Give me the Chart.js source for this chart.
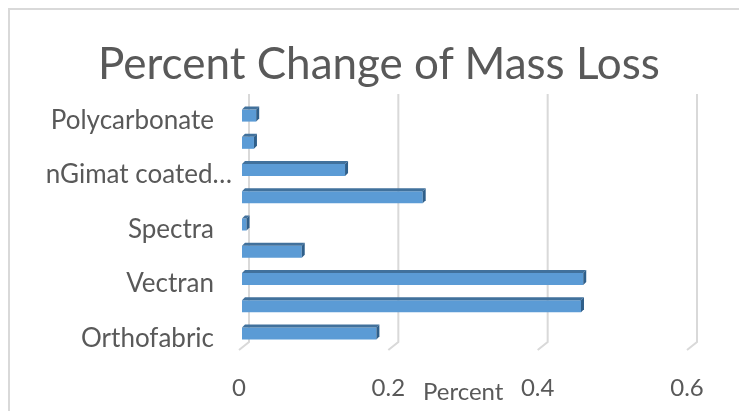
<!DOCTYPE html>
<html>
<head>
<meta charset="utf-8">
<style>
  html, body { margin: 0; padding: 0; background: #fff; overflow: hidden; }
  #wrap { width: 739px; height: 411px; position: relative; }
  #chart { display: block; }
  #xname { position: absolute; left: 423px; top: 376px; font: 24px Lato; color: #595959; }
  #title { position: absolute; left: 98px; top: 36px; font: 44px/53px Lato; color: #595959; white-space: nowrap; }
</style>
<script src="https://cdn.jsdelivr.net/npm/chart.js@4"></script>
</head>
<body>
<div id="wrap">
  <canvas id="chart" width="739" height="411"></canvas>
  <div id="title">Percent Change of Mass Loss</div>
  <div id="xname">Percent</div>
</div>
<script>
const categories = ['Orthofabric', '', 'Vectran', '', 'Spectra', '', 'nGimat coated…', '', 'Polycarbonate'];
const percentChange = [0.18, 0.454, 0.457, 0.08, 0.006, 0.242, 0.138, 0.016, 0.019];
const xTicks = [0, 0.2, 0.4, 0.6];
const longLabel = 6; // this one sits further right than the others in the original

// fake 3D look: back wall gridlines and floor, then depth faces on the bars
const depthBars = {
  id: 'depthBars',
  beforeDatasetsDraw(chart) {
    const { ctx, scales: { x }, chartArea } = chart;
    ctx.save();
    ctx.strokeStyle = '#d9d9d9';
    ctx.lineWidth = 2;
    xTicks.forEach(v => {
      const px = x.getPixelForValue(v) + 7;
      ctx.beginPath();
      ctx.moveTo(px, 94);
      ctx.lineTo(px, chartArea.bottom - 5);
      ctx.lineTo(px - 10, chartArea.bottom + 3);
      ctx.stroke();
    });
    ctx.restore();
  },
  afterDatasetsDraw(chart) {
    const { ctx, scales: { y } } = chart;
    ctx.save();
    chart.getDatasetMeta(0).data.forEach(bar => {
      const h = bar.height;
      const top = bar.y - h / 2;
      const bot = bar.y + h / 2;
      ctx.fillStyle = '#41719c';
      ctx.beginPath();
      ctx.moveTo(bar.base, top);
      ctx.lineTo(bar.base + 3, top - 3);
      ctx.lineTo(bar.x + 3, top - 3);
      ctx.lineTo(bar.x, top);
      ctx.closePath();
      ctx.fill();
      ctx.fillStyle = '#2f5f8a';
      ctx.beginPath();
      ctx.moveTo(bar.x, top);
      ctx.lineTo(bar.x + 3, top - 3);
      ctx.lineTo(bar.x + 3, bot - 3);
      ctx.lineTo(bar.x, bot);
      ctx.closePath();
      ctx.fill();
    });
    ctx.fillStyle = '#595959';
    ctx.font = '26px Lato';
    ctx.textAlign = 'right';
    ctx.textBaseline = 'middle';
    ctx.fillText(categories[longLabel], 232, y.getPixelForTick(longLabel) + 5);
    ctx.restore();
  }
};

// outer frame of the chart object, cut off on the right and bottom
const frame = {
  id: 'frame',
  beforeDraw(chart) {
    const { ctx } = chart;
    ctx.save();
    ctx.strokeStyle = '#d9d9d9';
    ctx.lineWidth = 2;
    ctx.strokeRect(9, 9, 760, 440);
    ctx.restore();
  }
};

new Chart(document.getElementById('chart'), {
  type: 'bar',
  data: {
    labels: categories,
    datasets: [{
      data: percentChange,
      backgroundColor: '#5b9bd5',
      borderWidth: 0,
      barPercentage: 0.44,
      categoryPercentage: 1
    }]
  },
  plugins: [frame, depthBars],
  options: {
    indexAxis: 'y',
    responsive: false,
    animation: false,
    layout: { padding: { left: 0, right: 49, top: 102, bottom: 8 } },
    plugins: {
      legend: { display: false },
      tooltip: { enabled: false },
      title: { display: false }
    },
    scales: {
      x: {
        min: 0,
        max: 0.6,
        afterBuildTicks(axis) { axis.ticks = xTicks.map(v => ({ value: v })); },
        afterFit(axis) { axis.height = 56; },
        grid: { display: false, drawTicks: false },
        border: { display: false },
        ticks: {
          color: '#595959',
          font: { family: 'Lato', size: 24 },
          padding: 27,
          labelOffset: -3
        }
      },
      y: {
        reverse: true,
        afterFit(axis) { axis.width = 242; },
        grid: { display: false, drawTicks: false },
        border: { display: false },
        ticks: {
          autoSkip: false,
          color: '#595959',
          font: { family: 'Lato', size: 26 },
          padding: 28,
          labelOffset: 5,
          callback(value, i) { return i === longLabel ? '' : categories[i]; }
        }
      }
    }
  }
});
</script>
</body>
</html>
